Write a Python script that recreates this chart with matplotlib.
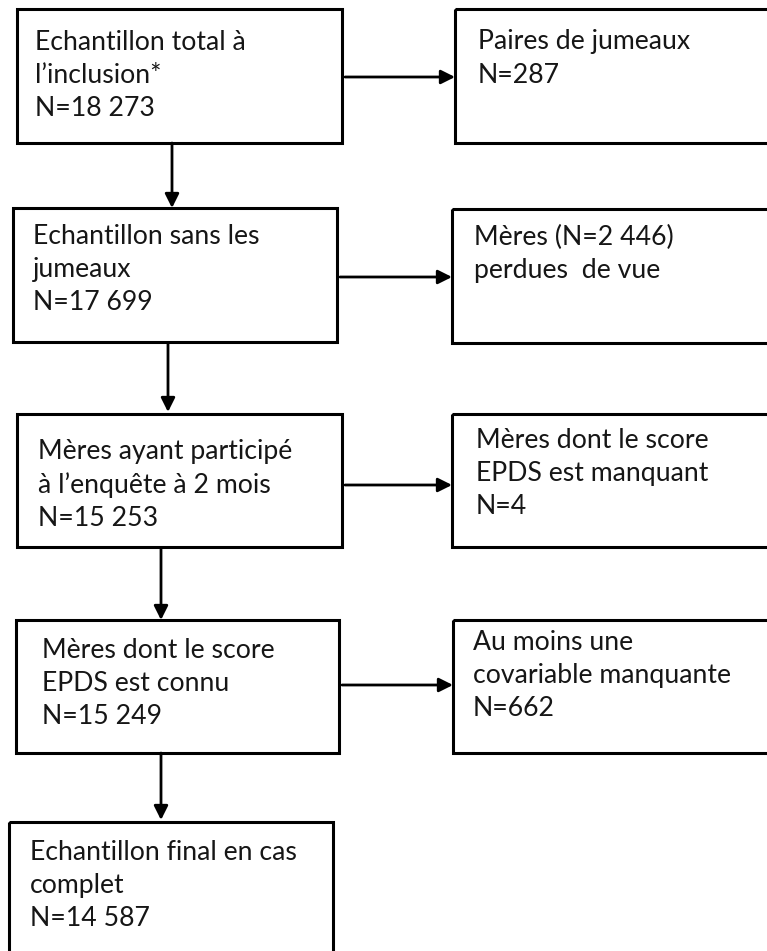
import matplotlib
matplotlib.use("Agg")
import matplotlib.pyplot as plt
from matplotlib.patches import Rectangle

# textes des boites (colonne de gauche = flux principal, droite = exclusions)
left_labels = [
    ["Echantillon total à", "l\u2019inclusion*", "N=18 273"],
    ["Echantillon sans les", "jumeaux", "N=17 699"],
    ["Mères ayant participé", "à l\u2019enquête à 2 mois", "N=15 253"],
    ["Mères dont le score", "EPDS est connu", "N=15 249"],
    ["Echantillon final en cas", "complet", "N=14 587"],
]
right_labels = [
    ["Paires de jumeaux", "N=287"],
    ["Mères (N=2 446)", "perdues  de vue"],
    ["Mères dont le score", "EPDS est manquant", "N=4"],
    ["Au moins une", "covariable manquante", "N=662"],
]

# mise en page en pixels (x0, y0, x1, y1)
left_boxes = [(17, 9, 342, 143), (13, 208, 337, 342), (17, 414, 342, 547),
              (16, 620, 339, 753), (9, 822, 333, 975)]
right_boxes = [(455, 9, 800, 143), (452, 209, 800, 343), (452, 414, 800, 547),
               (453, 620, 800, 753)]
left_text = [(35, 42), (33, 236), (38, 452), (42, 650), (30, 852)]
right_text = [(478, 42), (474, 237), (476, 440), (473, 642)]
down_arrows = [(172, 143, 208), (168, 344, 412), (161, 549, 620), (161, 753, 820)]
side_arrows = [77, 277, 485, 685]
line_step = 33.5

W, H = 767, 951
fig = plt.figure(figsize=(W / 100, H / 100), dpi=100)
ax = fig.add_axes([0, 0, 1, 1])
ax.set_xlim(0, W)
ax.set_ylim(H, 0)
ax.axis("off")

font = "Lato"
fs = 19.2
txt_color = "#161616"


def draw_box(b):
    x0, y0, x1, y1 = b
    ax.add_patch(Rectangle((x0, y0), x1 - x0, y1 - y0, fill=False,
                           edgecolor="black", lw=2.2, clip_on=True))


def arrow(p0, p1):
    ax.annotate("", xy=p1, xytext=p0,
                arrowprops=dict(arrowstyle="-|>", color="black", lw=2.0,
                                mutation_scale=21, shrinkA=0, shrinkB=0))


for b, (tx, ty), lines in zip(left_boxes, left_text, left_labels):
    draw_box(b)
    for i, s in enumerate(lines):
        ax.text(tx, ty + i * line_step, s, fontsize=fs, family=font,
                color=txt_color, va="center", ha="left")

for b, (tx, ty), lines in zip(right_boxes, right_text, right_labels):
    draw_box(b)
    for i, s in enumerate(lines):
        ax.text(tx, ty + i * line_step, s, fontsize=fs, family=font,
                color=txt_color, va="center", ha="left")

for x, y0, y1 in down_arrows:
    arrow((x, y0), (x, y1))

for lb, rb, y in zip(left_boxes, right_boxes, side_arrows):
    arrow((lb[2] + 3, y), (rb[0], y))

fig.savefig("out.png", dpi=100)
